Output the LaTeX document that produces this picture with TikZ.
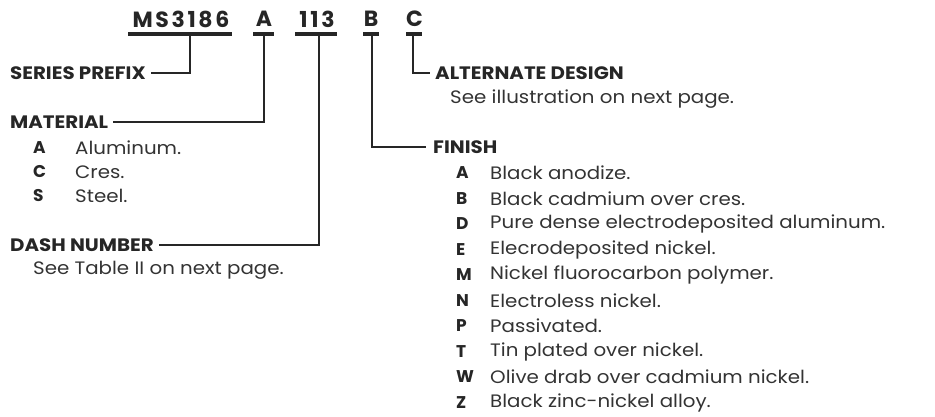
\documentclass[tikz,border=0pt]{standalone}
\usepackage{fontspec}
\setmainfont{Poppins}[FakeStretch=1.1]
\newfontfamily\codefont{Poppins}[LetterSpace=12]
\newfontfamily\keyfont{Poppins}
\begin{document}
\begin{tikzpicture}[x=1pt,y=-1pt,
  hdr/.style={font=\fontsize{18}{21}\selectfont\bfseries, anchor=west, inner sep=0pt, text=black!85},
  body/.style={font=\fontsize{18}{21}\selectfont, anchor=west, inner sep=0pt, text=black!80},
  key/.style={font=\keyfont\fontsize{17}{21}\selectfont\bfseries, anchor=west, inner sep=0pt, text=black!85},
  code/.style={font=\codefont\fontsize{22}{26}\selectfont\bfseries, inner sep=0pt, text=black!85},
  ln/.style={line width=1.8pt, black!85},
  ul/.style={line width=4pt, black!85}]
\useasboundingbox (0,0) rectangle (935,417);

% code line
\node[code] (ms)  at (181,19)   {MS3186};
\node[code] (ca)  at (264,19) {A};
\node[code] (cn)  at (317,19)   {113};
\node[code] (cb)  at (371,19)   {B};
\node[code] (cc)  at (414.5,19) {C};

\coordinate (ulms1) at (128,34); \coordinate (ulms2) at (232,34);
\coordinate (ula1) at (253,34);  \coordinate (ula2) at (274,34);
\coordinate (uln1) at (295,34);  \coordinate (uln2) at (337,34);
\coordinate (ulb1) at (363,34);  \coordinate (ulb2) at (379,34);
\coordinate (ulc1) at (406,34);  \coordinate (ulc2) at (422,34);
\draw[ul] (ulms1) -- (ulms2);
\draw[ul] (ula1) -- (ula2);
\draw[ul] (uln1) -- (uln2);
\draw[ul] (ulb1) -- (ulb2);
\draw[ul] (ulc1) -- (ulc2);

% headers
\node[hdr] (series) at (10,73) {SERIES PREFIX};
\node[hdr] (mat) at (10,122) {MATERIAL};
\node[hdr] (dash) at (10,245) {DASH NUMBER};
\node[hdr] (alt) at (435,73) {ALTERNATE DESIGN};
\node[hdr] (fin) at (433,147) {FINISH};

% connectors
\coordinate (dms) at (190,34);
\coordinate (da) at (264,34);
\coordinate (dn) at (319,34);
\coordinate (db) at (372,34);
\coordinate (dc) at (413,34);
\draw[ln] (dms) |- ([xshift=5pt]series.east);
\draw[ln] (da) |- ([xshift=5pt]mat.east);
\draw[ln] (dn) |- ([xshift=5pt]dash.east);
\draw[ln] (db) |- ([xshift=-7pt]fin.west);
\draw[ln] (dc) |- ([xshift=-5pt]alt.west);

% material list
\node[key] (ma) at (33,148) {A};  \node[body] at (75,148) {Aluminum.};
\node[key] (mc) at (33,172) {C};  \node[body] at (75,172) {Cres.};
\node[key] (msx) at (33,196) {S}; \node[body] at (75,196) {Steel.};

\node[body] (dashtxt) at (33,270) {See Table II on next page.};
\node[body] (alttxt) at (450,99) {See illustration on next page.};

% finish list
\foreach \k/\t [count=\i from 0] in {A/Black anodize.,B/Black cadmium over cres.,D/Pure dense electrodeposited aluminum.,E/Elecrodeposited nickel.,M/Nickel fluorocarbon polymer.,N/Electroless nickel.,P/Passivated.,T/Tin plated over nickel.,W/Olive drab over cadmium nickel.,Z/Black zinc-nickel alloy.}{
  \node[key] (fk\i) at (456,173+25.5*\i) {\k};
  \node[body] (ft\i) at (490,173+25.5*\i) {\t};
}
\end{tikzpicture}
\end{document}
